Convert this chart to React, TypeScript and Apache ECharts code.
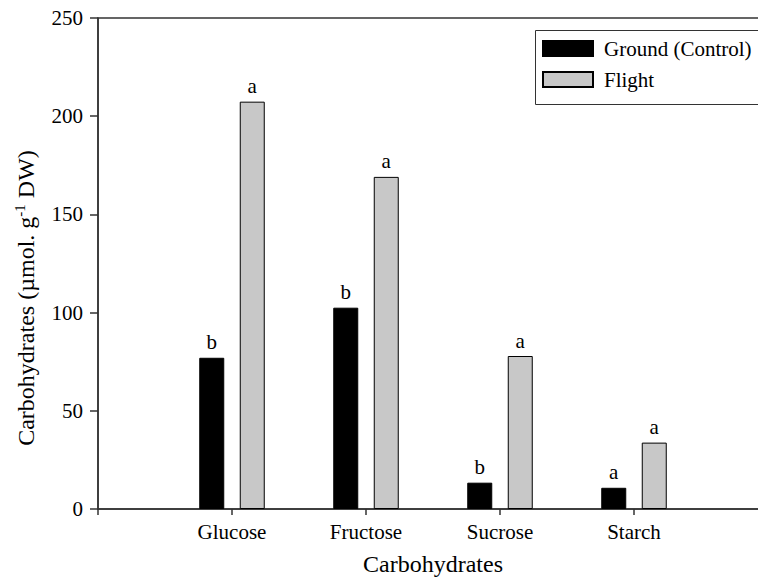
import React, { useEffect, useRef } from "react";
import * as echarts from "echarts";

const categories = ["", "Glucose", "Fructose", "Sucrose", "Starch", ""];
const groundValues = [null, 77.0, 102.5, 13.4, 10.8, null];
const flightValues = [null, 207.4, 169.1, 77.9, 33.8, null];
const groundLetters = ["", "b", "b", "b", "a", ""];
const flightLetters = ["", "a", "a", "a", "a", ""];
const seriesNames = ["Ground (Control)", "Flight"];
const yTicks = { min: 0, max: 250, interval: 50 };

const FONT = "Liberation Serif, Times New Roman, serif";

export default function App() {
  const ref = useRef<HTMLDivElement>(null);
  useEffect(() => {
    if (!ref.current) return;
    const chart = echarts.init(ref.current, null, { renderer: "svg" });
    chart.setOption({
      animation: false,
      backgroundColor: "#ffffff",
      textStyle: { fontFamily: FONT, color: "#000" },
      grid: {
        left: 98,
        top: 18,
        width: 670,
        height: 491,
        outerBoundsMode: "none",
        containLabel: false,
        show: true,
        borderColor: "#333",
        borderWidth: 1.5,
      },
      legend: {
        orient: "vertical",
        left: 533,
        top: 28,
        padding: [10, 10, 11, 9],
        itemWidth: 50,
        itemHeight: 15,
        itemGap: 10,
        icon: "rect",
        textStyle: { fontFamily: FONT, fontSize: 21, color: "#000", padding: [0, 0, 0, 6] },
        data: seriesNames,
      },
      xAxis: {
        type: "category",
        data: categories,
        boundaryGap: false,
        name: "Carbohydrates",
        nameLocation: "middle",
        nameGap: 43,
        nameTextStyle: { fontFamily: FONT, fontSize: 24, color: "#000" },
        axisLine: { lineStyle: { color: "#333", width: 1.5 } },
        axisTick: { show: true, length: 6, lineStyle: { color: "#333", width: 1.5 } },
        axisLabel: { fontFamily: FONT, fontSize: 21, color: "#000", margin: 12 },
        splitLine: { show: false },
      },
      yAxis: {
        type: "value",
        min: yTicks.min,
        max: yTicks.max,
        interval: yTicks.interval,
        axisLine: { show: true, lineStyle: { color: "#333", width: 1.5 } },
        axisTick: { show: true, length: 8, lineStyle: { color: "#333", width: 1.5 } },
        axisLabel: { fontFamily: FONT, fontSize: 21, color: "#000", margin: 15 },
        splitLine: { show: false },
      },
      graphic: [
        {
          type: "rect",
          left: 533,
          top: 28,
          shape: { width: 300, height: 74 },
          style: { fill: "none", stroke: "#333", lineWidth: 1 },
          z: 0,
        },
        {
          type: "text",
          x: 26,
          y: 298,
          rotation: Math.PI / 2,
          style: {
            text: "Carbohydrates (µmol. g{sup|-1} DW)",
            fontFamily: FONT,
            fontSize: 24,
            fill: "#000",
            align: "center",
            verticalAlign: "middle",
            lineHeight: 28,
            rich: {
              sup: { fontFamily: FONT, fontSize: 15, lineHeight: 14, verticalAlign: "top", fill: "#000" },
            },
          },
        },
      ],
      series: [
        {
          name: seriesNames[0],
          type: "bar",
          data: groundValues,
          barWidth: 25,
          barGap: "62%",
          itemStyle: { color: "#000000", borderColor: "#000", borderWidth: 1 },
          label: {
            show: true,
            position: "top",
            distance: 5,
            fontFamily: FONT,
            fontSize: 21,
            color: "#000",
            formatter: (p: any) => groundLetters[p.dataIndex],
          },
        },
        {
          name: seriesNames[1],
          type: "bar",
          data: flightValues,
          barWidth: 25,
          barGap: "62%",
          itemStyle: { color: "#c8c8c8", borderColor: "#000", borderWidth: 1 },
          label: {
            show: true,
            position: "top",
            distance: 5,
            fontFamily: FONT,
            fontSize: 21,
            color: "#000",
            formatter: (p: any) => flightLetters[p.dataIndex],
          },
        },
      ],
    });
    return () => chart.dispose();
  }, []);
  return (
    <div
      ref={ref}
      style={{ position: "absolute", left: 0, top: 0, width: 758, height: 583 }}
    />
  );
}
